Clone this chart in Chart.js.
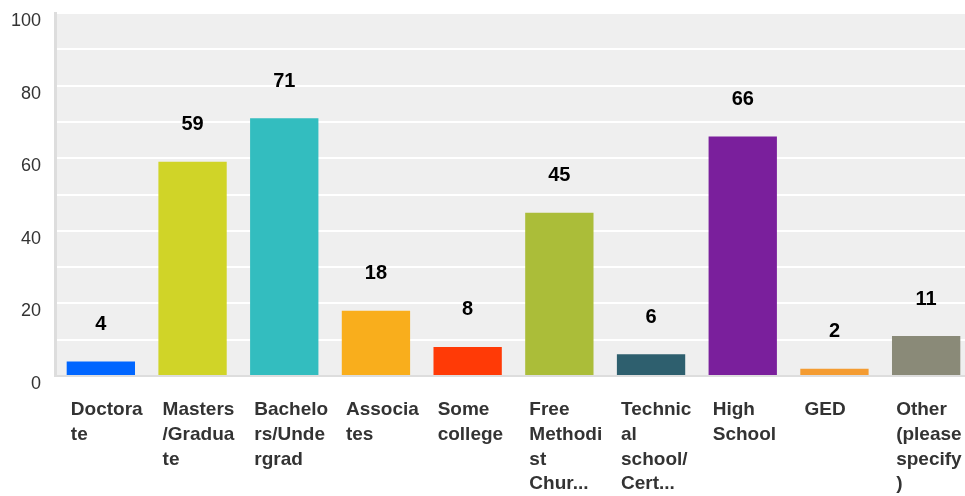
<!DOCTYPE html>
<html>
<head>
<meta charset="utf-8">
<script src="https://cdn.jsdelivr.net/npm/chart.js@4"></script>
<style>
  html, body { margin: 0; padding: 0; background: #fff; overflow: hidden; }
  #wrap { width: 972px; height: 496px; position: relative; }
</style>
</head>
<body>
<div id="wrap"><canvas id="bar-chart"></canvas></div>
<script>
// categories (already wrapped the way the original shows them)
var categories = [
  ["Doctora", "te"],
  ["Masters", "/Gradua", "te"],
  ["Bachelo", "rs/Unde", "rgrad"],
  ["Associa", "tes"],
  ["Some", "college"],
  ["Free", "Methodi", "st", "Chur..."],
  ["Technic", "al", "school/", "Cert..."],
  ["High", "School"],
  ["GED"],
  ["Other", "(please", "specify", ")"]
];
var responses = [4, 59, 71, 18, 8, 45, 6, 66, 2, 11];
var barColors = ["#0066ff", "#d0d428", "#33bdbf", "#f9ae1c", "#ff3a06",
                 "#abbd39", "#2e5f6e", "#7a1f9c", "#f49c32", "#8a8a78"];
var yTicks = [0, 20, 40, 60, 80, 100];

var plotBackground = {
  id: 'plotBackground',
  beforeDraw: function(chart) {
    var a = chart.chartArea, ctx = chart.ctx;
    ctx.save();
    ctx.fillStyle = '#efefef';
    ctx.fillRect(a.left, a.top, a.right - a.left, a.bottom - a.top);
    ctx.restore();
  }
};

var valueLabels = {
  id: 'valueLabels',
  afterDatasetsDraw: function(chart) {
    var ctx = chart.ctx;
    var meta = chart.getDatasetMeta(0);
    ctx.save();
    ctx.font = 'bold 20px "Liberation Sans", Arial, sans-serif';
    ctx.fillStyle = '#000';
    ctx.textAlign = 'center';
    ctx.textBaseline = 'middle';
    meta.data.forEach(function(bar, i) {
      ctx.fillText(responses[i], bar.x, bar.y - 37);
    });
    ctx.restore();
  }
};

new Chart(document.getElementById("bar-chart"),
{
  type: 'bar',
  data:
  {
    labels: categories,
    datasets:
    [{
      label: "Responses",
      data: responses,
      backgroundColor: barColors,
      borderWidth: 0,
      categoryPercentage: 1.0,
      barPercentage: 0.745
    }]
  },
  options:
  {
    responsive: true,
    maintainAspectRatio: false,
    animation: false,
    layout: { padding: { top: 13, left: 0, right: 0, bottom: 0 } },
    plugins: {
      legend: { display: false },
      tooltip: { enabled: false }
    },
    scales: {
      x: {
        grid: { display: false, drawTicks: false },
        border: { color: '#dddddd', width: 2 },
        afterFit: function(scale) {
          scale.height = 120;
          scale.paddingLeft = 0;
          scale.paddingRight = 0;
        },
        ticks: {
          autoSkip: false,
          maxRotation: 0,
          minRotation: 0,
          align: 'start',
          labelOffset: -30,
          padding: 22,
          color: '#333333',
          font: { family: '"Liberation Sans", Arial, sans-serif', size: 19, weight: 'bold', lineHeight: 1.29 }
        }
      },
      y: {
        min: 0,
        max: 100,
        grid: { color: '#ffffff', lineWidth: 2, drawTicks: false },
        border: { color: '#dddddd', width: 3 },
        afterFit: function(scale) {
          scale.width = 55;
          scale.paddingTop = 0;
          scale.paddingBottom = 0;
        },
        ticks: {
          stepSize: 10,
          padding: 14,
          labelOffset: 8,
          color: '#333333',
          font: { family: '"Liberation Sans", Arial, sans-serif', size: 18 },
          callback: function(v) { return yTicks.indexOf(v) >= 0 ? v : ''; }
        }
      }
    }
  },
  plugins: [plotBackground, valueLabels]
});
</script>
</body>
</html>
